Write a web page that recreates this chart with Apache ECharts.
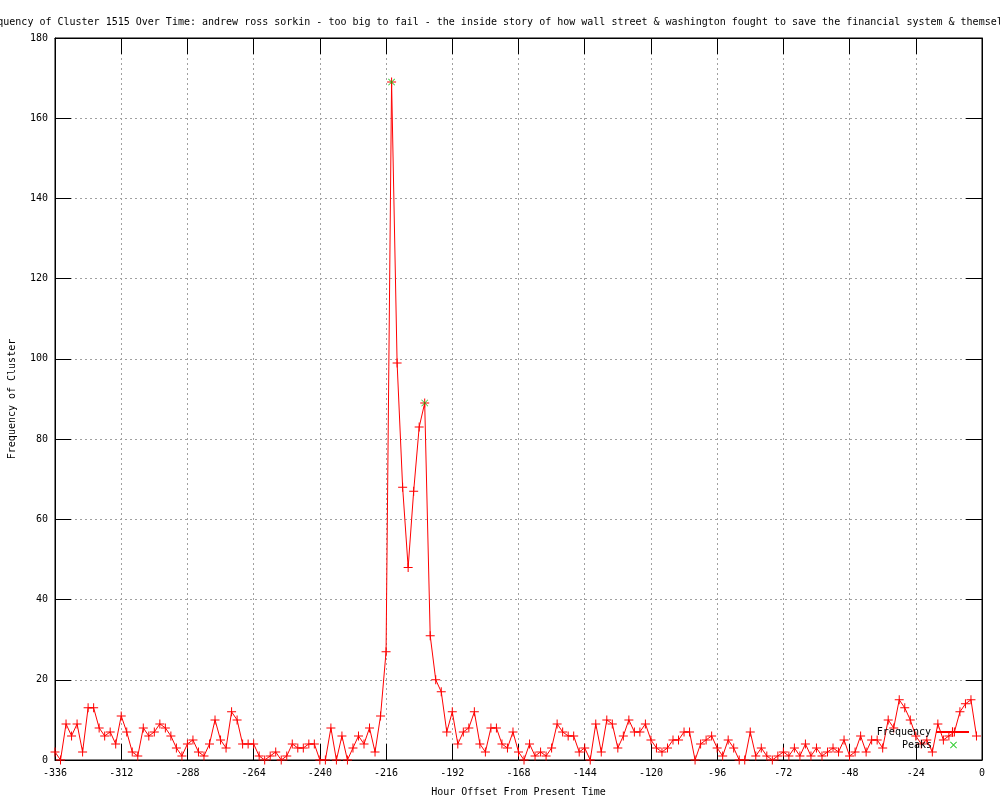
<!DOCTYPE html>
<html>
<head>
<meta charset="utf-8">
<script src="https://cdn.jsdelivr.net/npm/echarts@6/dist/echarts.min.js"></script>
<style>
  html, body { margin: 0; padding: 0; background: #fff; }
  #chart { width: 1000px; height: 800px; }
</style>
</head>
<body>
<div id="chart"></div>
<script>
// ---- data ----
const TITLE = 'Frequency of Cluster 1515 Over Time: andrew ross sorkin - too big to fail - the inside story of how wall street & washington fought to save the financial system & themselves';
const HOUR_START = -336;   // first sample hour offset
const HOUR_STEP = 2;       // sample spacing in hours
const frequency = [
  2,0,9,6,9,2,13,13,8,6,7,4,11,7,2,1,8,6,7,9,8,6,3,1,4,5,2,1,
  4,10,5,3,12,10,4,4,4,1,0,1,2,0,1,4,3,3,4,4,0,0,8,0,6,0,3,6,
  4,8,2,11,27,169,99,68,48,67,83,89,31,20,17,7,12,4,7,8,12,4,2,8,8,4,3,
  7,2,0,4,1,2,1,3,9,7,6,6,2,3,0,9,2,10,9,3,6,10,7,7,9,5,3,
  2,3,5,5,7,7,0,4,5,6,3,1,5,3,0,0,7,1,3,1,0,1,2,1,3,1,4,1,
  3,1,2,3,2,5,1,2,6,2,5,5,3,10,8,15,13,10,6,4,5,2,9,5,6,7,12,14,15,6
];
const peakHours = [-214, -202];
const peakValues = [169, 89];
const xTicks = { min: -336, max: 0, interval: 24 };
const yTicks = { min: 0, max: 180, interval: 20 };

// ---- build ----
const freqData = frequency.map((v, i) => [HOUR_START + i * HOUR_STEP, v]);
const peakData = peakHours.map((h, i) => [h, peakValues[i]]);

const FONT = 'DejaVu Sans Mono';
const PLUS = 'path://M8,0h2v8h8v2h-8v8h-2v-8h-8v-2h8z';
const CROSS = 'path://M0,1.4L1.4,0L9,7.6L16.6,0L18,1.4L10.4,9L18,16.6L16.6,18L9,10.4L1.4,18L0,16.6L7.6,9z';
const CROSS_WIDE = 'path://M0,0h0.01v0.01h-0.01z M33,12h-0.01v-0.01h0.01z M13,3.2L13.7,2.5L16.5,5.3L19.3,2.5L20,3.2L17.2,6L20,8.8L19.3,9.5L16.5,6.7L13.7,9.5L13,8.8L15.8,6z';

const chart = echarts.init(document.getElementById('chart'), null, { renderer: 'canvas' });
const gridDash = { color: '#a0a0a0', type: [2, 3], width: 1 };
const blackLine = { show: true, onZero: false, lineStyle: { color: '#000', width: 1 } };
const tick = { show: true, inside: true, length: 16, lineStyle: { color: '#000' } };
const lbl = { fontFamily: FONT, fontSize: 10, color: '#000' };
chart.setOption({
  animation: false,
  backgroundColor: '#fff',
  textStyle: { fontFamily: FONT, fontSize: 10, color: '#000' },
  title: {
    text: TITLE, left: 'center', top: 12,
    textStyle: { fontFamily: FONT, fontSize: 10, fontWeight: 'normal', color: '#000' }
  },
  grid: {
    left: 55, right: 18, top: 38, bottom: 40, show: true, borderColor: '#000', borderWidth: 1,
    backgroundColor: 'transparent', containLabel: false, outerBoundsMode: 'none'
  },
  legend: [
    {
      data: ['Frequency'], right: 30, top: 727, orient: 'vertical', align: 'right',
      itemWidth: 33, itemHeight: 12, padding: 0,
      textStyle: lbl
    },
    {
      data: [{ name: 'Peaks', icon: CROSS_WIDE }], right: 30, top: 739, orient: 'vertical', align: 'right',
      itemWidth: 33, itemHeight: 12, padding: 0,
      textStyle: lbl
    }
  ],
  xAxis: [
    {
      type: 'value', position: 'bottom', min: xTicks.min, max: xTicks.max, interval: xTicks.interval,
      name: 'Hour Offset From Present Time', nameLocation: 'middle', nameGap: 27,
      nameTextStyle: lbl,
      axisLine: blackLine, axisTick: tick,
      axisLabel: Object.assign({ margin: 8 }, lbl),
      splitLine: { show: true, lineStyle: gridDash }
    },
    {
      type: 'value', position: 'top', min: xTicks.min, max: xTicks.max, interval: xTicks.interval,
      axisLine: blackLine, axisTick: tick,
      axisLabel: { show: false }, splitLine: { show: false }
    }
  ],
  yAxis: [
    {
      type: 'value', position: 'left', min: yTicks.min, max: yTicks.max, interval: yTicks.interval,
      name: 'Frequency of Cluster', nameLocation: 'middle', nameGap: 38, nameRotate: 90,
      nameTextStyle: lbl,
      axisLine: blackLine, axisTick: tick,
      axisLabel: Object.assign({ margin: 7 }, lbl),
      splitLine: { show: true, lineStyle: gridDash }
    },
    {
      type: 'value', position: 'right', min: yTicks.min, max: yTicks.max, interval: yTicks.interval,
      axisLine: blackLine, axisTick: tick,
      axisLabel: { show: false }, splitLine: { show: false }
    }
  ],
  series: [
    {
      name: 'Frequency', type: 'line', xAxisIndex: 0, yAxisIndex: 0,
      data: freqData,
      color: '#ff0000',
      lineStyle: { color: '#ff0000', width: 1 },
      itemStyle: { color: '#ff0000' },
      symbol: PLUS, symbolSize: 9, showSymbol: true, showAllSymbol: true,
      emphasis: { disabled: true }, z: 3
    },
    {
      name: 'Peaks', type: 'scatter', xAxisIndex: 0, yAxisIndex: 0,
      data: peakData,
      color: '#00c000',
      itemStyle: { color: '#00c000' },
      symbol: CROSS, symbolSize: 7,
      emphasis: { disabled: true }, z: 4
    }
  ]
});
</script>
</body>
</html>
